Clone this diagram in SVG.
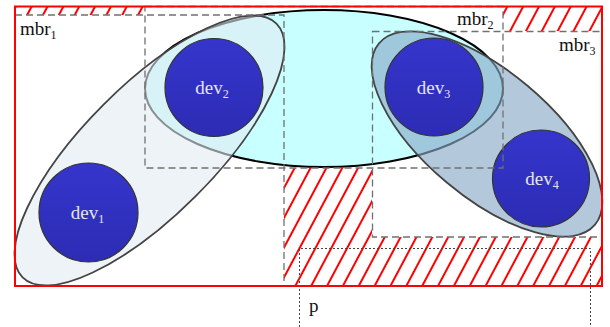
<svg xmlns="http://www.w3.org/2000/svg" width="610" height="327" viewBox="0 0 610 327">
<defs>
<style>
.lbl{font-family:"Liberation Serif","Times New Roman",serif;font-size:19px;fill:#111}
.dev{font-family:"Liberation Serif","Times New Roman",serif;font-size:19px;fill:#e6e6f2;text-anchor:middle}
.sub{font-size:12px}
.mbr{fill:none;stroke:#707070;stroke-width:1.3;stroke-dasharray:7 4}
.devc{fill:url(#g);stroke:#333;stroke-width:1.2}
.grp{stroke:#444;stroke-width:1.8}
</style>
<linearGradient id="g" x1="0" y1="0" x2="0" y2="1"><stop offset="0" stop-color="#3535cc"/><stop offset="1" stop-color="#2c2cb4"/></linearGradient>
<pattern id="hatch" patternUnits="userSpaceOnUse" width="14" height="14" patternTransform="rotate(28)"><line x1="3" y1="-1" x2="3" y2="15" stroke="#ff0000" stroke-width="2"/></pattern>
</defs>
<rect width="610" height="327" fill="#fff"/>
<g id="hatch-regions" fill="url(#hatch)">
<rect x="15" y="6" width="130" height="9"/>
<rect x="503" y="6" width="99" height="25"/>
<polygon points="284,168 372,168 372,237 602,237 602,286 284,286"/>
</g>
<g id="ellipse-A"><ellipse cx="324" cy="88.5" rx="179" ry="78.5" fill="#c8ffff" stroke="#000" stroke-width="2"/></g>
<g id="ellipse-B"><ellipse cx="149.5" cy="150.5" rx="179.5" ry="65" transform="rotate(-45 149.5 150.5)" fill="rgb(227,235,242)" fill-opacity="0.6" class="grp"/></g>
<g id="ellipse-C"><ellipse cx="487" cy="134" rx="141" ry="63" transform="rotate(40 487 134)" fill="rgb(137,169,200)" fill-opacity="0.64" class="grp"/></g>
<g id="dev1"><circle cx="88.5" cy="212.5" r="49.5" class="devc"/><text x="87.5" y="219" class="dev">dev<tspan class="sub" dy="4">1</tspan></text></g>
<g id="dev2"><circle cx="214" cy="87.5" r="49" class="devc"/><text x="212" y="94" class="dev">dev<tspan class="sub" dy="4">2</tspan></text></g>
<g id="dev3"><circle cx="434" cy="87" r="49" class="devc"/><text x="433.5" y="94" class="dev">dev<tspan class="sub" dy="4">3</tspan></text></g>
<g id="dev4"><circle cx="541" cy="178.5" r="48.5" class="devc"/><text x="542" y="185" class="dev">dev<tspan class="sub" dy="4">4</tspan></text></g>
<g id="mbr1"><rect x="15" y="15" width="269" height="271" class="mbr"/><text x="20" y="35" class="lbl">mbr<tspan class="sub" dy="4">1</tspan></text></g>
<g id="mbr2"><rect x="145" y="6.5" width="358" height="161.5" class="mbr"/><text x="457" y="25" class="lbl">mbr<tspan class="sub" dy="4">2</tspan></text></g>
<g id="mbr3"><rect x="372.5" y="31.5" width="229.5" height="205.5" class="mbr"/><text x="559" y="51" class="lbl">mbr<tspan class="sub" dy="4">3</tspan></text></g>
<g id="p"><path d="M299.5,327 V248.5 H590.5 V327" fill="none" stroke="#444" stroke-width="1" stroke-dasharray="2 2"/><text x="309" y="312" class="lbl">p</text></g>
<g id="space"><rect x="15" y="6.5" width="587" height="279.5" fill="none" stroke="#ff0000" stroke-width="2"/></g>
</svg>
